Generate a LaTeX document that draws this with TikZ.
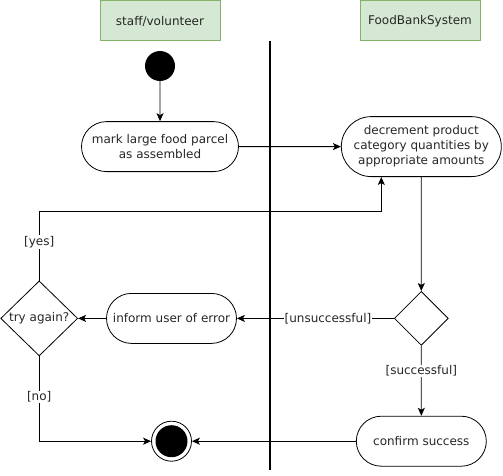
\documentclass[tikz,border=0pt]{standalone}
\usepackage{fontspec}
\setmainfont{DejaVu Sans}
\usepackage{xcolor}
\usetikzlibrary{positioning, shapes.misc, shapes.geometric, arrows.meta}

\definecolor{lanefill}{HTML}{D5E8D4}
\definecolor{laneline}{HTML}{82B366}

\begin{document}
\begin{tikzpicture}[
		x=1pt, y=1pt,
		>={Stealth[length=8pt, width=7pt, inset=2pt]},
		every node/.style={font=\fontsize{12}{15}\selectfont, text=black!85},
		lane/.style={draw=laneline, fill=lanefill, line width=1pt, minimum width=120pt, minimum height=40pt},
		action/.style={rounded rectangle, draw, line width=0.8pt, align=center, inner sep=0pt},
		choice/.style={diamond, draw, line width=0.8pt, inner sep=0pt},
		guard/.style={fill=white, inner sep=1pt},
		flow/.style={->, line width=0.8pt}
		]
		\useasboundingbox (0,0) rectangle (503,475);
		
		% ==========================================
		% SWIMLANES
		% ==========================================
		\node[lane] (staff) at (160,454) {staff/volunteer};
		\node[lane] (system) at (420,454) {FoodBankSystem};
		\draw[line width=2pt] (270,434) -- (270,5);
		
		% ==========================================
		% STAFF ACTIONS
		% ==========================================
		\node[circle, fill=black, minimum size=30pt, inner sep=0pt] (start) at (160,409) {};
		
		\node[action, below=40pt of start, minimum width=157pt, minimum height=50pt] (mark) {
			mark large food parcel\\as assembled
		};
		
		% ==========================================
		% SYSTEM ACTIONS
		% ==========================================
		\node[action, right=102pt of mark, minimum width=160pt, minimum height=60pt] (decrement) {
			decrement product\\category quantities by\\appropriate amounts
		};
		
		\node[choice, below=114pt of decrement, minimum width=54pt, minimum height=54pt] (result) {};
		
		\node[action, below=70pt of result, minimum width=130pt, minimum height=50pt] (confirm) {confirm success};
		
		% ==========================================
		% ERROR HANDLING
		% ==========================================
		\node[action, left=157pt of result, minimum width=130pt, minimum height=50pt] (inform) {inform user of error};
		
		\node[choice, left=28pt of inform, minimum width=77pt, minimum height=75pt] (retry) {try again?};
		
		% End state
		\node[circle, draw, line width=0.8pt, minimum size=40pt, inner sep=0pt, left=164pt of confirm] (end) {};
		\fill[black] (end.center) circle (16pt);
		
		% ==========================================
		% FLOWS
		% ==========================================
		\draw[flow] (start) -- (mark);
		\draw[flow] (mark) -- (decrement);
		\draw[flow] (decrement) -- (result);
		\draw[flow] (result) -- node[guard, pos=0.42] {[unsuccessful]} (inform);
		\draw[flow] (result) -- node[guard, pos=0.36] {[successful]} (confirm);
		\draw[flow] (inform) -- (retry);
		\draw[flow] (retry.north) -- ++(0,69) node[guard, pos=0.56] {[yes]} -| ([xshift=-40pt]decrement.south);
		\draw[flow] (retry.south) |- node[guard, pos=0.24] {[no]} (end);
		\draw[flow] (confirm) -- (end);
		
	\end{tikzpicture}
\end{document}
